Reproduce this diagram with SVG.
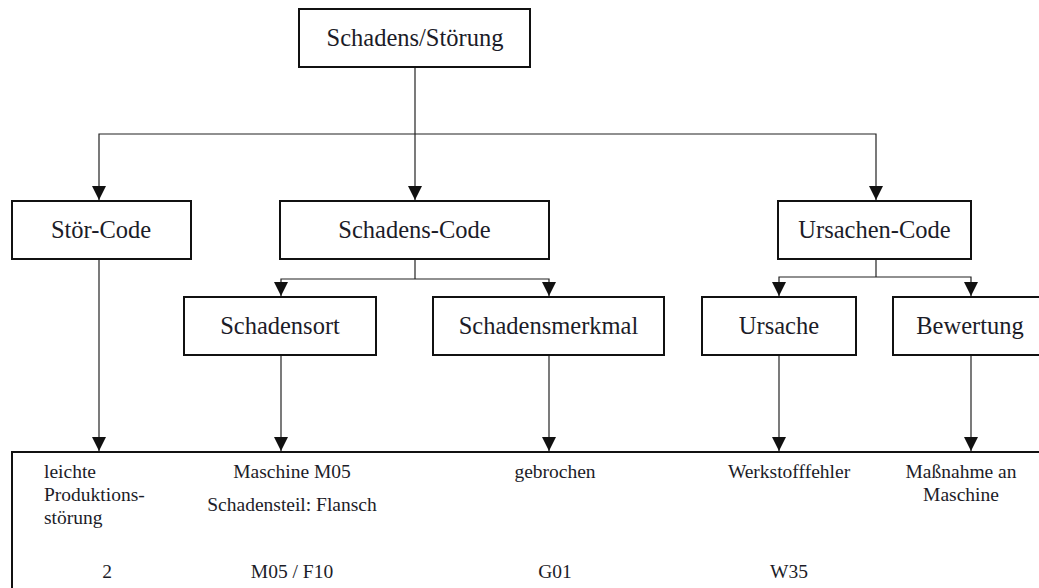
<svg xmlns="http://www.w3.org/2000/svg" width="1039" height="588" viewBox="0 0 1039 588">
  <defs>
    <marker id="arrow" markerWidth="14" markerHeight="14" viewBox="0 0 14 14" refX="14" refY="7" orient="auto" markerUnits="userSpaceOnUse">
      <path d="M0,0 L14,7 L0,14 Z" fill="#111"/>
    </marker>
    <style>
      .box { fill: #fff; stroke: #111; stroke-width: 2; }
      .conn { fill: none; stroke: #222; stroke-width: 1.2; }
      .arr { fill: none; stroke: #222; stroke-width: 1.2; }
      .lbl { font-family: 'Liberation Serif', 'DejaVu Serif', serif; font-size: 24.5px; fill: #1c1c28; text-anchor: middle; }
      .val { font-family: 'Liberation Serif', 'DejaVu Serif', serif; font-size: 19.5px; fill: #1c1c28; }
      .mid { text-anchor: middle; }
    </style>
  </defs>
  <rect width="1039" height="588" fill="#fff"/>

  <!-- connectors -->
  <g id="connectors">
    <!-- root to level 1 -->
    <line class="arr" x1="415" y1="67" x2="415" y2="200" marker-end="url(#arrow)"/>
    <polyline class="arr" points="415,134 99,134 99,200" marker-end="url(#arrow)"/>
    <polyline class="arr" points="415,134 876,134 876,200" marker-end="url(#arrow)"/>
    <!-- Schadens-Code split -->
    <line class="conn" x1="415" y1="259" x2="415" y2="279"/>
    <polyline class="arr" points="415,279 281,279 281,296" marker-end="url(#arrow)"/>
    <polyline class="arr" points="415,279 549,279 549,296" marker-end="url(#arrow)"/>
    <!-- Ursachen-Code split -->
    <line class="conn" x1="876" y1="259" x2="876" y2="277"/>
    <polyline class="arr" points="876,277 779,277 779,296" marker-end="url(#arrow)"/>
    <polyline class="arr" points="876,277 971,277 971,296" marker-end="url(#arrow)"/>
    <!-- down to the example table -->
    <line class="arr" x1="99" y1="259" x2="99" y2="451" marker-end="url(#arrow)"/>
    <line class="arr" x1="281" y1="355" x2="281" y2="451" marker-end="url(#arrow)"/>
    <line class="arr" x1="549" y1="355" x2="549" y2="451" marker-end="url(#arrow)"/>
    <line class="arr" x1="779" y1="355" x2="779" y2="451" marker-end="url(#arrow)"/>
    <line class="arr" x1="971" y1="355" x2="971" y2="451" marker-end="url(#arrow)"/>
  </g>

  <g id="node-root">
    <rect class="box" x="299" y="9" width="231" height="58"/>
    <text class="lbl" x="415" y="46">Schadens/Störung</text>
  </g>
  <g id="node-stoer-code">
    <rect class="box" x="12" y="201" width="179" height="58"/>
    <text class="lbl" x="101" y="238">Stör-Code</text>
  </g>
  <g id="node-schadens-code">
    <rect class="box" x="280" y="201" width="269" height="58"/>
    <text class="lbl" x="414.5" y="238">Schadens-Code</text>
  </g>
  <g id="node-ursachen-code">
    <rect class="box" x="778" y="201" width="193" height="58"/>
    <text class="lbl" x="874.5" y="238">Ursachen-Code</text>
  </g>
  <g id="node-schadensort">
    <rect class="box" x="184" y="297" width="192" height="58"/>
    <text class="lbl" x="280" y="334">Schadensort</text>
  </g>
  <g id="node-schadensmerkmal">
    <rect class="box" x="433" y="297" width="231" height="58"/>
    <text class="lbl" x="548.5" y="334">Schadensmerkmal</text>
  </g>
  <g id="node-ursache">
    <rect class="box" x="702" y="297" width="154" height="58"/>
    <text class="lbl" x="779" y="334">Ursache</text>
  </g>
  <g id="node-bewertung">
    <rect class="box" x="893" y="297" width="156" height="58"/>
    <text class="lbl" x="970" y="334">Bewertung</text>
  </g>

  <g id="node-example">
    <rect class="box" x="12" y="452" width="1040" height="150"/>
    <text class="val" x="44" y="478">leichte</text>
    <text class="val" x="44" y="501">Produktions-</text>
    <text class="val" x="44" y="524">störung</text>
    <text class="val mid" x="107" y="578">2</text>

    <text class="val mid" x="292" y="478">Maschine M05</text>
    <text class="val mid" x="292" y="511">Schadensteil: Flansch</text>
    <text class="val mid" x="292" y="578">M05 / F10</text>

    <text class="val mid" x="555" y="478">gebrochen</text>
    <text class="val mid" x="555" y="578">G01</text>

    <text class="val mid" x="789" y="478">Werkstofffehler</text>
    <text class="val mid" x="789" y="578">W35</text>

    <text class="val mid" x="961" y="478">Maßnahme an</text>
    <text class="val mid" x="961" y="501">Maschine</text>
  </g>
</svg>
